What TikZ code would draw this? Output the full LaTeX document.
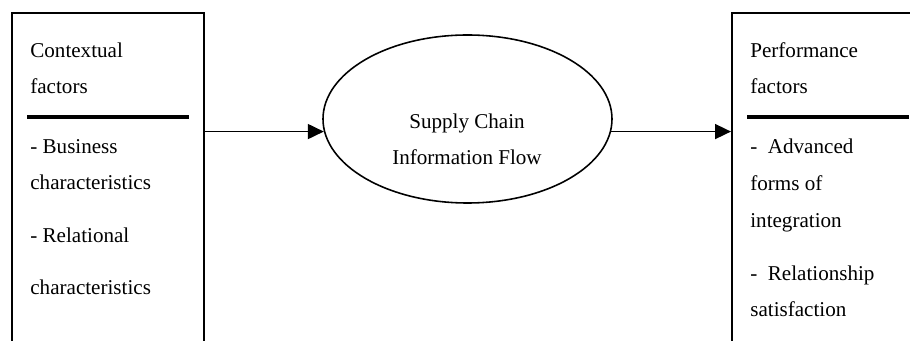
\documentclass[tikz,border=0pt]{standalone}
\usepackage{fontspec}
\setmainfont{Liberation Serif}
\usetikzlibrary{arrows.meta,positioning,calc,shapes.geometric}

\begin{document}
\begin{tikzpicture}[
    factorbox/.style={draw=black, line width=1.1pt, anchor=north west, minimum width=3.84cm, minimum height=8cm, inner sep=0pt},
    flow/.style={draw=black, line width=0.9pt, ellipse, minimum width=5.78cm, minimum height=3.36cm, inner sep=0pt},
    body/.style={anchor=base west, align=left, inner sep=0pt, font=\fontsize{12}{21}\selectfont},
    flowtext/.style={anchor=base, align=center, inner sep=0pt, font=\fontsize{12}{21}\selectfont},
    divider/.style={line width=2pt},
    link/.style={line width=1pt, -{Triangle[length=0.32cm, width=0.3cm]}}
]
\useasboundingbox (0,0) rectangle (18.2,-6.82);

% the two factor columns run past the lower edge
\node[factorbox] (ctx) at (0.22,-0.24) {};
\node[factorbox] (perf) at (14.62,-0.24) {};
\node[flow] (scif) at (9.35,-2.38) {};

\draw[divider] ($(ctx.north west)+(0.32,-2.1)$) -- ($(ctx.north east)+(-0.32,-2.1)$);
\draw[divider] ($(perf.north west)+(0.32,-2.1)$) -- ($(perf.north east)+(-0.32,-2.1)$);

% base sits on the last line
\node[body] (ctxhead) at (0.6,-1.88) {Contextual\\factors};
\node[body] (ctxlist) at (0.6,-5.90) {- Business\\characteristics\\[8.9pt]- Relational\\[8.9pt]characteristics};

\node[body] (perfhead) at (15.0,-1.88) {Performance\\factors};
\node[body] (perflist) at (15.0,-6.34) {-\enspace Advanced\\forms of\\integration\\[8.9pt]-\enspace Relationship\\satisfaction};

\node[flowtext] (flowlbl) at (9.34,-3.30) {Supply Chain\\Information Flow};

\draw[link] (ctx.east |- scif.185) -- (scif.185);
\draw[link] (scif.-5) -- (perf.west |- scif.-5);
\end{tikzpicture}
\end{document}
